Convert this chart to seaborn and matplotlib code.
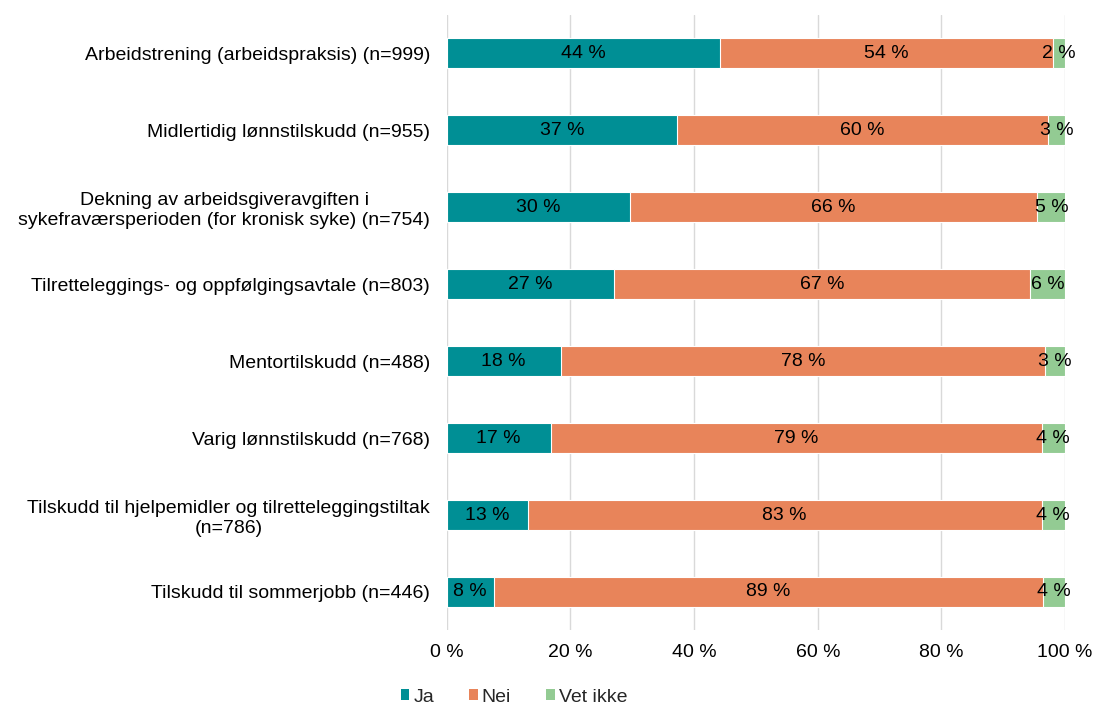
import seaborn as sns
import matplotlib.pyplot as plt
import numpy as np
import pandas as pd
from matplotlib.ticker import FuncFormatter
from matplotlib.patches import Patch

# Data (share in %)
categories = [
    "Arbeidstrening (arbeidspraksis) (n=999)",
    "Midlertidig lønnstilskudd (n=955)",
    "Dekning av arbeidsgiveravgiften i\nsykefraværsperioden (for kronisk syke) (n=754)",
    "Tilretteleggings- og oppfølgingsavtale (n=803)",
    "Mentortilskudd (n=488)",
    "Varig lønnstilskudd (n=768)",
    "Tilskudd til hjelpemidler og tilretteleggingstiltak\n(n=786)",
    "Tilskudd til sommerjobb (n=446)",
]
ja = [44.2, 37.2, 29.6, 27.0, 18.4, 16.8, 13.1, 7.6]
nei = [53.9, 60.0, 65.9, 67.4, 78.4, 79.4, 83.1, 88.8]
vet_ikke = [1.9, 2.8, 4.6, 5.6, 3.2, 3.8, 3.8, 3.6]

colors = {"Ja": "#008F95", "Nei": "#E8845A", "Vet ikke": "#93CB93"}

df = pd.DataFrame({"kategori": categories, "Ja": ja, "Nei": nei, "Vet ikke": vet_ikke})
df["cum_ja"] = df["Ja"]
df["cum_nei"] = df["Ja"] + df["Nei"]
df["cum_vet"] = df["cum_nei"] + df["Vet ikke"]

sns.set_style("white")
plt.rcParams["font.family"] = ["Liberation Sans", "DejaVu Sans"]
FS = 14

fig = plt.figure(figsize=(10.95, 7.06), dpi=100)
ax = fig.add_axes([0.408, 0.107, 0.5647, 0.872])

# stacked bars drawn as cumulative overlays
for col, name in [("cum_vet", "Vet ikke"), ("cum_nei", "Nei"), ("cum_ja", "Ja")]:
    sns.barplot(data=df, x=col, y="kategori", orient="h", color=colors[name],
                width=0.39, edgecolor="white", linewidth=0.8, ax=ax, saturation=1)

# labels
for i, row in df.iterrows():
    starts = [0, row["cum_ja"], row["cum_nei"]]
    for start, name in zip(starts, ["Ja", "Nei", "Vet ikke"]):
        val = row[name]
        ax.text(start + val / 2, i, f"{int(round(val))} %", ha="center", va="center",
                fontsize=FS, color="black")

ax.set_xlim(0, 100)
ax.set_ylim(7.5, -0.5)
ax.set_xticks(np.arange(0, 101, 20))
ax.xaxis.set_major_formatter(FuncFormatter(lambda v, p: f"{int(v)} %"))
ax.grid(axis="x", color="#d9d9d9", linewidth=1)
ax.set_axisbelow(True)
for s in ax.spines.values():
    s.set_visible(False)
ax.set_xlabel("")
ax.set_ylabel("")
ax.tick_params(axis="both", length=0, labelsize=FS, colors="black")
ax.tick_params(axis="x", pad=10)
ax.tick_params(axis="y", pad=12)
for lbl in ax.get_yticklabels():
    lbl.set_multialignment("center")

handles = [Patch(facecolor=colors[n], edgecolor="none", label=n) for n in ["Ja", "Nei", "Vet ikke"]]
fig.legend(handles=handles, loc="center", bbox_to_anchor=(514 / 1095, 1 - 697 / 706),
           ncol=3, frameon=False, fontsize=FS, handlelength=0.45, handleheight=0.45,
           handletextpad=0.2, columnspacing=1.8)

plt.savefig("out.png", dpi=100)
plt.close()
